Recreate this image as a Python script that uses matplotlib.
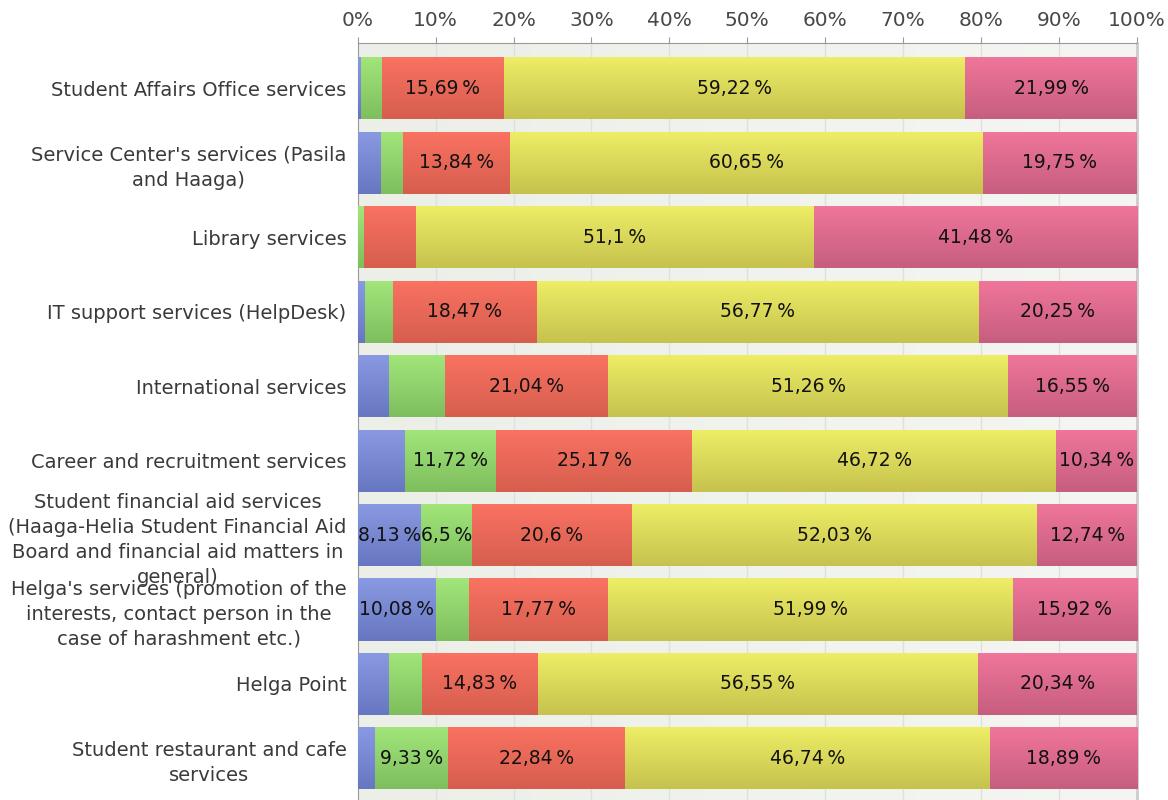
import numpy as np
import matplotlib
matplotlib.use("Agg")
import matplotlib.pyplot as plt
from matplotlib.colors import LinearSegmentedColormap

# ------------------------------------------------------------
# data (percent of answers per service)
# ------------------------------------------------------------
services = [
    "Student Affairs Office services",
    "Service Center's services (Pasila\nand Haaga)",
    "Library services",
    "IT support services (HelpDesk)",
    "International services",
    "Career and recruitment services",
    "Student financial aid services\n(Haaga-Helia Student Financial Aid\nBoard and financial aid matters in\ngeneral)",
    "Helga's services (promotion of the\ninterests, contact person in the\ncase of harashment etc.)",
    "Helga Point",
    "Student restaurant and cafe\nservices",
]
blue = [0.40, 3.00, 0.00, 1.00, 4.00, 6.05, 8.13, 10.08, 4.06, 2.20]
green = [2.70, 2.76, 0.85, 3.51, 7.15, 11.72, 6.50, 4.24, 4.22, 9.33]
red = [15.69, 13.84, 6.57, 18.47, 21.04, 25.17, 20.60, 17.77, 14.83, 22.84]
yellow = [59.22, 60.65, 51.10, 56.77, 51.26, 46.72, 52.03, 51.99, 56.55, 46.74]
pink = [21.99, 19.75, 41.48, 20.25, 16.55, 10.34, 12.74, 15.92, 20.34, 18.89]

series = [blue, green, red, yellow, pink]
# (top colour, bottom colour) for the vertical gradient of each series
shades = [
    ("#8a9ae2", "#6676c0"),
    ("#a2e67a", "#7ebe5e"),
    ("#fa7262", "#d65e4e"),
    ("#eeee66", "#c6c24e"),
    ("#f0769a", "#c65e80"),
]
xticks = np.arange(0, 101, 10)

# ------------------------------------------------------------
# figure
# ------------------------------------------------------------
fig = plt.figure(figsize=(11.68, 8), dpi=100)
ax = fig.add_axes([357.7 / 1168, 0, 779 / 1168, 1 - 43 / 800])

y = np.arange(len(services))
ax.set_xlim(0, 100)
ax.set_ylim(9.56, -0.61)

# plot background: soft horizontal gradient
bg = LinearSegmentedColormap.from_list("bg", ["#ecefe8", "#f5f6f3"])
ax.imshow(np.linspace(0, 1, 256).reshape(1, -1), cmap=bg, aspect="auto",
          extent=[0, 100, 9.56, -0.61], zorder=0)
for xt in xticks[1:-1]:
    ax.axvline(xt, color="#dde1dc", lw=1, zorder=1)

left = np.zeros(len(services))
for vals, (top, bot) in zip(series, shades):
    vals = np.array(vals)
    bars = ax.barh(y, vals, left=left, height=0.835, color=top,
                   edgecolor="none", zorder=2)
    cmap = LinearSegmentedColormap.from_list("g", [top, bot])
    for b, v in zip(bars, vals):
        if v <= 0:
            continue
        x0, y0 = b.get_x(), b.get_y()
        im = ax.imshow(np.linspace(0, 1, 64).reshape(-1, 1), cmap=cmap,
                       aspect="auto", interpolation="bilinear",
                       extent=[x0, x0 + b.get_width(), y0 + b.get_height(), y0],
                       zorder=3)
        im.set_clip_path(b)
    left = left + vals

# value labels, only on wide enough segments where the text fits
fig.canvas.draw()
renderer = fig.canvas.get_renderer()
left = np.zeros(len(services))
for vals in series:
    for i, v in enumerate(vals):
        if v < 5:
            continue
        txt = ("%.2f" % v).rstrip("0").rstrip(".").replace(".", ",") + "\u2009%"
        t = ax.text(left[i] + v / 2, y[i], txt, ha="center", va="center",
                    fontsize=13.5, color="#111111", zorder=5)
        w_txt = t.get_window_extent(renderer).width
        p0 = ax.transData.transform((left[i], 0))[0]
        p1 = ax.transData.transform((left[i] + v, 0))[0]
        if w_txt > p1 - p0 + 4:
            t.remove()
    left = left + np.array(vals)

# axes styling
ax.xaxis.tick_top()
ax.set_xticks(xticks)
ax.set_xticklabels(["%d%%" % v for v in xticks], fontsize=14.5, color="#484848")
ax.tick_params(axis="x", length=4, color="#999999", pad=5)
ax.set_yticks(y)
ax.set_yticklabels(services, fontsize=14, color="#3a3a3a", linespacing=1.4)
for lbl in ax.get_yticklabels():
    lbl.set_multialignment("center")
ax.tick_params(axis="y", length=0, pad=8)
ax.spines["bottom"].set_visible(False)
ax.spines["top"].set_color("#999999")
ax.spines["left"].set_color("#999999")
ax.spines["right"].set_color("#cccccc")
ax.spines["right"].set_linewidth(2)

fig.savefig("out.png", dpi=100)
